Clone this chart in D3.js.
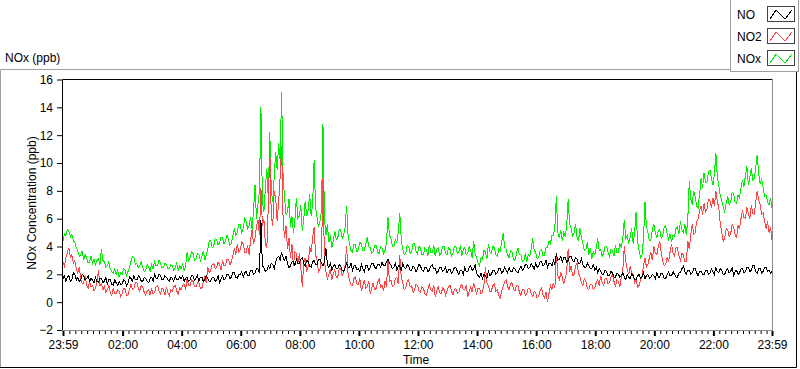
<!DOCTYPE html>
<html>
<head>
<meta charset="utf-8">
<script src="https://cdn.jsdelivr.net/npm/d3@7"></script>
<style>
  body { margin: 0; background: #fff; }
  svg { display: block; font-family: "Liberation Sans", Arial, sans-serif; }
</style>
</head>
<body>
<svg id="chart" width="800" height="369"></svg>
<script>
// one sample every 3 minutes, first sample at 23:59 of the previous day
const stepMinutes = 3;
const startMinute = -1;

// NO (ppb), twenty samples per hour
const noValues = [
  1.7,1.9,1.5,1.8,1.9,1.5,1.6,2.1,2.0,1.6,1.8,1.5,1.6,2.0,1.9,1.6,1.7,1.9,1.5,1.7,
  1.6,1.4,1.8,1.5,1.4,1.7,1.7,1.4,1.5,1.8,1.3,1.6,1.6,1.3,1.2,1.6,1.4,1.2,1.5,1.3,
  1.3,1.6,1.5,1.2,1.4,1.8,1.7,1.5,1.9,1.6,1.6,1.9,1.8,1.5,1.5,1.8,1.7,1.5,1.4,1.7,
  1.8,1.5,2.0,1.7,1.7,2.0,1.9,1.6,1.6,1.9,1.8,1.6,1.5,1.8,1.7,1.5,1.9,1.6,1.6,1.8,
  1.7,1.9,1.5,1.7,1.8,1.5,1.6,1.9,1.9,1.6,1.7,1.9,1.5,1.8,1.8,1.5,1.6,1.9,1.7,1.5,
  1.5,1.8,1.8,1.5,1.6,1.9,1.4,1.7,1.9,1.6,1.7,2.0,2.0,1.7,1.8,2.1,2.1,1.8,1.7,2.0,
  2.0,2.2,1.8,2.1,2.2,1.9,1.9,2.3,2.3,2.0,2.1,2.4,2.4,2.1,5.9,2.6,2.5,2.2,2.3,2.6,
  2.4,2.8,2.7,2.4,2.9,3.2,3.3,3.0,3.6,3.2,3.0,3.3,2.8,2.5,2.6,2.9,2.9,2.6,3.1,2.8,
  2.8,3.1,3.2,2.8,2.6,3.0,2.9,2.6,2.5,2.9,3.0,2.7,2.7,3.1,3.1,2.8,2.6,2.9,3.9,2.7,
  2.5,2.8,2.3,2.6,2.7,2.4,2.4,2.7,2.6,2.3,2.2,2.5,2.8,2.5,2.5,2.8,2.3,2.6,2.6,2.3,
  2.4,2.2,2.7,2.4,2.2,2.6,2.6,2.3,2.5,2.8,2.8,2.5,2.4,2.7,2.7,2.5,2.9,2.6,2.6,2.9,
  3.1,2.8,2.7,2.4,2.5,2.8,2.3,2.6,2.6,2.3,2.8,2.5,2.4,2.7,2.6,2.3,2.3,2.6,2.5,2.2,
  2.4,2.7,2.6,2.3,2.2,2.5,2.5,2.2,2.3,2.6,2.7,2.4,2.4,2.1,2.2,2.5,2.5,2.2,2.3,2.5,
  2.1,2.3,2.4,2.1,2.2,2.5,2.5,2.2,2.0,2.3,2.3,2.0,2.5,2.2,2.2,2.5,2.6,2.3,2.4,2.7,
  2.1,1.9,1.8,2.1,1.7,2.0,1.9,1.7,2.2,1.9,2.0,2.3,2.3,2.0,2.1,2.4,2.4,2.1,2.2,2.5,
  2.3,2.1,2.5,2.2,2.2,2.5,2.4,2.2,2.1,2.4,2.6,2.3,2.4,2.7,2.7,2.4,2.5,2.8,2.6,2.4,
  2.8,2.5,2.6,2.9,2.9,2.6,2.7,3.0,2.5,2.8,2.8,2.6,3.0,2.7,3.5,3.0,3.1,3.3,2.9,3.2,
  3.2,2.9,3.0,3.3,3.3,3.0,2.9,3.2,3.1,2.8,2.8,3.1,2.7,2.5,2.5,2.8,2.6,2.4,2.4,2.7,
  2.3,2.5,2.1,2.4,2.2,2.0,2.0,2.3,2.2,1.9,1.9,2.2,2.1,1.8,1.8,2.1,2.0,1.8,1.9,2.1,
  1.8,1.6,2.0,1.8,1.7,2.0,1.9,1.6,1.6,1.9,2.0,1.7,1.8,2.1,1.7,1.9,2.0,1.7,1.8,2.0,
  1.9,1.7,2.1,1.8,1.8,2.1,2.0,1.7,1.7,2.0,2.2,1.9,1.9,2.2,2.0,1.8,1.8,2.1,2.1,2.4,
  2.6,2.2,2.0,2.3,2.3,2.0,2.1,2.4,2.4,2.1,1.9,2.2,2.2,2.0,2.0,2.3,2.3,2.0,2.1,2.4,
  2.2,2.0,2.5,2.2,2.1,2.4,2.3,2.0,2.0,2.3,2.4,2.1,2.2,2.5,1.9,2.2,2.3,2.0,2.1,2.4,
  2.4,2.1,2.2,2.5,2.5,2.2,2.3,2.6,2.6,2.2,2.1,2.4,2.4,2.1,2.2,2.5,2.5,2.2,2.3,2.1,
  2.2
];

// NO2 (ppb)
const no2Values = [
  2.9,2.6,3.2,3.6,3.9,3.2,3.4,2.8,3.0,2.4,2.1,2.5,1.7,1.3,1.4,1.9,1.2,1.0,1.5,1.1,
  1.2,0.8,1.0,1.4,2.3,1.2,1.3,0.9,1.1,0.7,0.9,1.2,0.7,0.5,1.0,0.6,0.6,0.9,0.8,0.4,
  0.6,1.0,0.9,0.5,0.5,0.9,1.3,0.9,1.0,1.4,1.4,1.0,0.8,1.2,1.1,0.7,0.5,0.8,0.9,0.5,
  1.0,0.6,0.7,1.1,1.2,0.8,0.6,1.0,0.9,0.5,1.1,0.7,0.5,0.9,0.8,1.1,1.2,0.8,0.6,1.0,
  0.9,1.2,1.3,0.9,1.7,1.2,1.2,1.6,1.5,1.1,1.1,1.4,1.4,1.0,1.0,1.5,1.8,1.4,2.5,2.1,
  2.3,2.7,2.8,2.4,2.5,2.9,2.7,2.3,3.0,2.6,2.6,3.1,3.1,2.7,2.9,3.3,3.9,3.4,4.2,3.6,
  3.8,4.3,4.2,3.6,3.6,4.1,3.4,4.5,5.2,4.2,4.6,5.5,5.9,4.8,8.2,5.5,6.0,4.2,3.9,7.0,
  11.1,6.2,5.5,8.0,7.5,5.8,7.2,9.0,11.2,6.0,4.6,5.5,3.8,4.6,3.2,4.2,2.6,3.6,3.5,2.8,
  3.5,2.5,1.1,2.8,3.2,2.2,2.6,4.0,3.6,4.6,5.4,3.4,3.0,2.2,2.4,3.4,8.9,3.0,2.2,1.7,
  2.0,2.4,1.6,2.0,2.3,1.8,1.8,2.4,2.4,1.9,2.1,2.6,4.0,2.0,1.6,1.2,1.2,1.7,1.8,1.3,
  1.3,1.7,0.8,1.2,1.6,1.0,1.1,1.5,0.6,1.0,1.4,0.9,1.0,1.4,1.7,1.1,1.2,0.8,1.5,1.1,
  3.0,1.5,1.6,1.1,1.2,1.7,1.8,1.3,3.4,1.8,1.4,0.9,1.0,1.5,1.6,1.1,1.2,0.7,0.9,1.3,
  1.2,0.8,0.7,1.1,1.0,0.6,0.5,0.9,1.3,0.9,0.8,1.2,0.4,0.8,1.1,0.7,0.6,1.0,0.9,0.5,
  0.8,1.1,1.2,0.8,0.5,0.9,1.0,0.6,0.7,1.1,1.3,0.9,0.9,1.2,0.4,0.8,1.1,0.7,1.4,1.0,
  0.6,1.0,1.0,0.6,0.7,1.3,2.5,1.4,1.2,0.8,0.8,1.2,1.3,0.8,0.9,0.5,0.3,0.8,1.1,1.5,
  1.6,1.1,0.9,1.3,1.4,0.9,0.8,1.2,1.2,0.7,0.5,0.9,0.9,0.5,0.6,1.0,1.0,0.6,0.4,0.8,
  0.7,0.3,0.4,0.8,1.0,0.5,0.3,0.7,0.0,0.6,1.2,0.9,1.4,1.0,3.5,1.9,1.6,2.1,1.8,1.3,
  1.7,2.2,3.8,2.2,2.6,1.9,2.0,2.6,2.8,2.1,1.8,1.4,1.2,1.7,1.5,1.0,0.9,1.3,1.3,0.9,
  1.0,1.4,1.6,1.2,1.9,1.4,1.2,1.7,1.7,1.3,1.4,1.8,2.0,1.5,1.1,1.6,1.5,1.1,1.8,2.3,
  4.0,2.9,2.4,2.0,2.6,2.1,2.0,1.4,1.6,1.1,1.2,1.6,1.9,2.6,3.2,2.5,2.7,3.2,3.6,3.0,
  4.0,3.5,3.4,4.0,4.4,3.6,3.0,2.6,2.7,3.2,2.9,3.6,4.2,3.5,3.3,3.9,3.9,3.3,3.0,3.5,
  3.4,2.9,2.9,4.4,3.8,4.8,5.6,4.9,5.0,5.8,6.0,6.6,6.9,6.3,7.1,6.5,6.7,7.4,7.3,6.8,
  7.5,6.9,8.0,7.2,6.8,5.6,5.0,4.4,4.6,5.3,5.2,4.7,4.9,5.6,5.4,4.9,4.6,5.5,5.3,6.0,
  6.6,6.1,6.0,6.8,6.4,6.0,7.0,6.4,6.3,7.2,8.0,7.3,7.0,6.3,6.4,5.8,5.3,5.8,5.0,5.4,
  4.5
];

// NOx (ppb)
const noxValues = [
  4.4,4.9,4.8,5.2,5.1,4.7,4.9,4.4,4.3,3.9,3.7,3.3,3.4,3.7,3.0,3.4,3.2,2.8,2.9,3.3,
  2.8,3.1,2.7,3.0,3.1,2.7,3.8,3.0,2.9,2.5,2.6,2.9,2.4,2.2,2.1,2.4,2.0,2.3,1.8,2.1,
  2.0,2.4,2.3,1.9,2.2,2.5,2.9,3.3,3.2,2.7,2.8,2.5,2.6,2.9,2.5,2.2,2.3,2.7,2.5,2.2,
  2.7,2.4,2.9,2.6,2.6,3.0,2.8,2.5,2.5,2.8,2.7,2.4,2.4,2.7,2.6,2.3,2.5,2.8,2.3,2.6,
  2.4,2.7,2.3,2.6,3.6,3.0,3.2,3.6,3.5,3.0,3.1,3.5,3.4,3.0,3.3,3.7,3.0,3.4,3.8,4.4,
  4.4,3.9,4.0,4.6,4.5,4.1,4.3,4.7,4.6,4.2,4.4,4.8,4.5,4.1,4.2,4.8,5.3,4.8,5.0,5.6,
  5.6,5.0,5.3,6.0,5.8,5.3,5.5,6.1,5.2,6.6,8.4,6.0,7.0,8.0,14.0,7.2,6.5,8.2,9.6,7.4,
  12.2,8.0,7.2,9.0,10.8,9.5,11.4,10.2,15.1,9.0,7.5,6.3,6.5,7.4,5.4,6.2,5.0,5.9,7.5,6.0,
  6.2,7.0,5.1,6.0,7.3,6.2,6.6,7.8,6.2,7.0,10.2,6.8,6.1,5.4,5.8,6.6,12.8,6.0,4.8,5.6,
  4.3,4.8,3.9,4.4,5.1,4.5,4.6,5.2,5.2,4.6,4.8,5.4,6.9,4.8,4.2,3.7,3.6,4.2,4.1,3.6,
  3.8,4.3,4.2,3.7,3.7,4.2,4.7,4.0,3.9,3.5,3.6,4.1,4.1,3.6,3.5,4.0,3.9,3.5,3.7,4.3,
  6.1,4.8,4.6,4.0,4.0,4.5,4.3,5.0,6.4,4.5,3.8,3.4,3.5,4.1,4.0,3.5,3.6,4.2,4.2,3.7,
  3.5,4.0,3.9,3.4,3.4,3.9,3.8,3.3,4.1,3.6,3.6,4.1,3.3,3.8,3.9,3.4,3.5,4.0,4.0,3.5,
  3.4,3.9,3.8,3.3,3.5,4.0,4.0,3.5,3.6,4.1,3.3,3.8,3.9,3.4,3.5,4.0,3.7,3.2,4.4,3.5,
  3.2,2.8,2.6,3.2,3.1,3.7,3.6,3.1,4.2,3.6,3.5,4.0,3.9,3.4,3.3,3.8,3.7,4.3,5.0,3.9,
  3.8,3.4,3.2,3.7,3.6,3.1,3.0,3.5,3.9,3.4,3.4,2.9,3.0,3.5,2.9,3.4,3.3,3.8,4.6,3.7,
  3.6,3.1,3.2,3.7,3.8,3.3,3.4,3.9,3.9,4.4,4.2,4.8,4.8,5.4,7.6,5.0,4.6,5.2,4.4,5.0,
  4.7,5.5,7.4,5.6,5.3,4.8,5.0,5.6,4.7,4.4,5.3,4.6,4.2,3.7,3.8,4.3,3.4,3.9,3.1,3.6,
  3.4,3.9,4.6,3.7,3.8,3.3,3.5,4.0,4.0,3.6,3.3,3.8,3.7,3.3,4.1,3.6,3.6,4.2,3.9,4.6,
  5.9,4.6,4.8,4.2,4.7,5.3,4.2,5.0,6.5,4.4,3.7,3.2,3.4,4.5,7.2,5.4,5.0,4.4,4.5,5.2,
  5.6,5.0,4.6,5.1,5.2,4.6,4.8,5.4,5.5,4.9,4.5,4.9,4.3,4.8,4.7,5.3,5.4,4.9,5.8,5.2,
  5.0,5.6,4.8,6.0,8.7,7.4,7.0,8.0,7.6,6.9,6.8,7.8,8.9,8.2,9.3,8.6,8.6,9.4,9.5,8.9,
  8.4,9.2,10.7,9.0,8.4,7.6,7.3,6.8,6.5,7.1,7.6,7.0,7.2,7.9,7.8,7.2,7.1,7.7,7.5,8.2,
  8.8,8.3,9.1,9.8,8.4,9.0,9.6,8.8,8.9,9.7,10.6,9.2,8.5,8.9,8.2,7.6,7.7,7.2,7.0,7.5,
  6.8
];

// axis ticks
const yTicks = [-2, 0, 2, 4, 6, 8, 10, 12, 14, 16];
const timeTicks = [-1, 120, 240, 360, 480, 600, 720, 840, 960, 1080, 1200, 1320, 1439];
const timeLabels = ["23:59", "02:00", "04:00", "06:00", "08:00", "10:00", "12:00",
  "14:00", "16:00", "18:00", "20:00", "22:00", "23:59"];

const seriesNames = ["NO", "NO2", "NOx"];
const seriesColors = ["#000000", "#ff4545", "#00ee00"];

const svg = d3.select("#chart");
const plot = { left: 62, right: 772, top: 79, bottom: 330 };

// scales
const xScale = d3.scaleLinear()
  .domain([-1, 1439])
  .range([63, plot.right]);

const yScale = d3.scaleLinear()
  .domain([-2, 16])
  .range([plot.bottom, plot.top + 0.5]);

// outer panel frame (light top/left, dark bottom/right)
svg.append("path")
  .attr("d", `M0.5,368 V69.5 H730`)
  .attr("fill", "none").attr("stroke", "#a0a0a0");
svg.append("path")
  .attr("d", `M0,367.5 H796.5 V72`)
  .attr("fill", "none").attr("stroke", "#000");

// chart title
svg.append("text")
  .attr("x", 5)
  .attr("y", 62)
  .attr("font-size", "12px")
  .text("NOx (ppb)");

// legend
const legend = svg.append("g");
legend.append("rect")
  .attr("x", 730.5).attr("y", -1)
  .attr("width", 68).attr("height", 72.5)
  .attr("fill", "#fff").attr("stroke", "#a0a0a0");

seriesNames.forEach((name, i) => {
  const cy = 14 + i * 22;
  legend.append("text")
    .attr("x", 737)
    .attr("y", cy + 4.5)
    .attr("font-size", "12px")
    .text(name);
  legend.append("rect")
    .attr("x", 767.5).attr("y", cy - 7.5)
    .attr("width", 27).attr("height", 15)
    .attr("fill", "#fff").attr("stroke", "#444");
  const zig = [[770, cy + 5], [776, cy - 4], [785, cy + 5], [792, cy - 4]];
  legend.append("path")
    .attr("d", d3.line()(zig))
    .attr("fill", "none")
    .attr("stroke", seriesColors[i])
    .attr("shape-rendering", "crispEdges");
});

// clip for the data lines
svg.append("clipPath").attr("id", "plot-clip")
  .append("rect")
  .attr("x", plot.left + 1).attr("y", plot.top + 1)
  .attr("width", plot.right - plot.left - 1)
  .attr("height", plot.bottom - plot.top - 1);

const line = d3.line()
  .x((d, i) => xScale(startMinute + i * stepMinutes))
  .y(d => yScale(d));

const lines = svg.append("g").attr("clip-path", "url(#plot-clip)");
// draw NOx first, then NO2, NO on top
[[noxValues, 2], [no2Values, 1], [noValues, 0]].forEach(([values, k]) => {
  lines.append("path")
    .datum(values)
    .attr("d", line)
    .attr("fill", "none")
    .attr("stroke", seriesColors[k])
    .attr("stroke-width", 1)
    .attr("shape-rendering", "crispEdges");
});

// plot frame: dark top/left, grey right/bottom
svg.append("path")
  .attr("d", `M${plot.left + 0.5},${plot.bottom} V${plot.top + 0.5} H${plot.right}`)
  .attr("fill", "none").attr("stroke", "#000");
svg.append("path")
  .attr("d", `M${plot.left},${plot.bottom + 0.5} H${plot.right + 0.5} V${plot.top}`)
  .attr("fill", "none").attr("stroke", "#8a8a8a");

// y-axis
const yAxis = d3.axisLeft(yScale)
  .tickValues(yTicks)
  .tickSize(5)
  .tickPadding(4);

const yAxisG = svg.append("g")
  .attr("transform", `translate(${plot.left}, 0)`)
  .call(yAxis);
yAxisG.select(".domain").remove();
yAxisG.selectAll("text").attr("font-size", "12px").attr("fill", "#000");

// x-axis, minor ticks every 12 minutes
const minorTicks = d3.range(0, 1440, 12).filter(m => m % 120 !== 0);
const xMinor = svg.append("g")
  .attr("transform", `translate(0, ${plot.bottom + 1})`)
  .call(d3.axisBottom(xScale).tickValues(minorTicks).tickSize(3).tickFormat(""));
xMinor.select(".domain").remove();

const xAxis = d3.axisBottom(xScale)
  .tickValues(timeTicks)
  .tickFormat((d, i) => timeLabels[i])
  .tickSize(5)
  .tickPadding(4);

const xAxisG = svg.append("g")
  .attr("transform", `translate(0, ${plot.bottom + 1})`)
  .call(xAxis);
xAxisG.select(".domain").remove();
xAxisG.selectAll("line").attr("stroke-width", 2);
xAxisG.selectAll("text").attr("font-size", "12px").attr("fill", "#000");

// axis titles
svg.append("text")
  .attr("x", 416)
  .attr("y", 364)
  .attr("text-anchor", "middle")
  .attr("font-size", "12px")
  .text("Time");

svg.append("text")
  .attr("transform", "translate(36, 203) rotate(-90)")
  .attr("text-anchor", "middle")
  .attr("font-size", "12px")
  .text("NOx Concentration (ppb)");
</script>
</body>
</html>
